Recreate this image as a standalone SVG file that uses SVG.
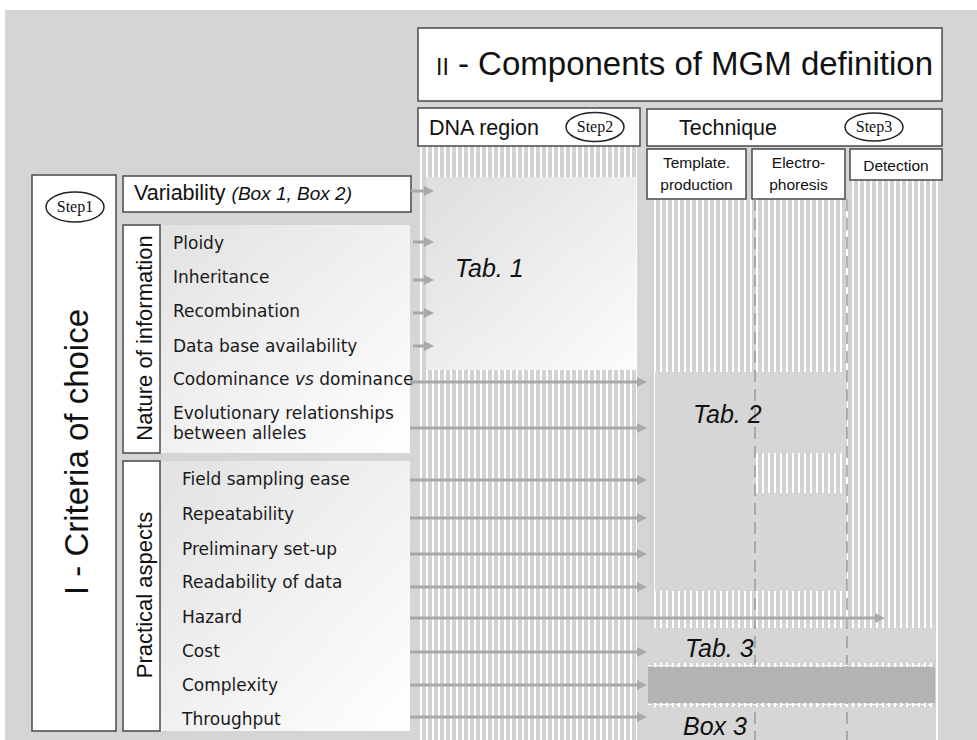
<svg xmlns="http://www.w3.org/2000/svg" width="977" height="740" viewBox="0 0 977 740">
<defs>
<pattern id="stripes" x="0" y="0" width="6" height="10" patternUnits="userSpaceOnUse">
<rect width="6" height="10" fill="#d2d2d2"/>
<rect x="0" width="2" height="10" fill="#ffffff"/>
</pattern>
<linearGradient id="panelGrad" x1="0" y1="0" x2="1" y2="1">
<stop offset="0" stop-color="#e2e2e2"/>
<stop offset="1" stop-color="#ffffff"/>
</linearGradient>
<linearGradient id="tab1Grad" x1="0" y1="0" x2="1" y2="1">
<stop offset="0" stop-color="#dedede"/>
<stop offset="1" stop-color="#fcfcfc"/>
</linearGradient>
<marker id="ah" viewBox="0 0 10 10" refX="2" refY="5" markerWidth="10" markerHeight="10" orient="auto" markerUnits="userSpaceOnUse">
<path d="M0,0 L10,5 L0,10 z" fill="#a9a9a9"/>
</marker>
</defs>
<style>
.box{fill:#ffffff;stroke:#4a4a4a;stroke-width:1.5}
.sans{font-family:"Liberation Sans",Arial,sans-serif;fill:#111}
.comic{font-family:"DejaVu Sans",sans-serif;fill:#1a1a1a;font-size:17px}
.step{font-family:"Liberation Serif","Times New Roman",serif;fill:#111;font-size:16px}
.ell{fill:#ffffff;stroke:#222;stroke-width:1.5}
.tab{font-family:"Liberation Sans",Arial,sans-serif;font-style:italic;font-size:25px;fill:#111}
.conn{stroke:#a9a9a9;stroke-width:3;fill:none}
.dash{stroke:#9a9a9a;stroke-width:1.5;stroke-dasharray:12 7;fill:none}
.gray{fill:#d6d6d6}
</style>

<g id="background">
<rect x="0" y="0" width="977" height="740" fill="#ffffff"/>
<rect x="5" y="10" width="972" height="730" fill="#d5d5d5"/>
<rect x="420" y="146" width="217" height="594" fill="url(#stripes)"/>
<rect x="650" y="199" width="288" height="541" fill="url(#stripes)"/>
<rect x="850" y="180" width="88" height="20" fill="url(#stripes)"/>
</g>

<g id="title">
<rect class="box" x="418" y="28" width="524" height="73"/>
<text class="sans" x="436" y="75" font-size="33"><tspan font-size="23">II</tspan> - Components of MGM definition</text>
</g>

<g id="dna-region">
<rect class="box" x="418" y="108" width="222" height="38"/>
<text class="sans" x="429" y="135" font-size="21.5">DNA region</text>
<ellipse class="ell" cx="595" cy="127" rx="29" ry="14.5"/>
<text class="step" x="595" y="132" text-anchor="middle">Step2</text>
</g>

<g id="technique">
<rect class="box" x="647" y="109" width="295" height="37"/>
<text class="sans" x="679" y="135" font-size="21.5">Technique</text>
<ellipse class="ell" cx="874" cy="127" rx="29" ry="14"/>
<text class="step" x="874" y="132" text-anchor="middle">Step3</text>
</g>

<g id="template-production">
<rect class="box" x="647" y="149" width="99" height="50"/>
<text class="sans" x="696.5" y="168" font-size="15.5" text-anchor="middle">Template.</text>
<text class="sans" x="696.5" y="190" font-size="15.5" text-anchor="middle">production</text>
</g>

<g id="electrophoresis">
<rect class="box" x="752" y="149" width="93" height="50"/>
<text class="sans" x="798.5" y="168" font-size="15.5" text-anchor="middle">Electro-</text>
<text class="sans" x="798.5" y="190" font-size="15.5" text-anchor="middle">phoresis</text>
</g>

<g id="detection">
<rect class="box" x="850" y="149" width="92" height="31"/>
<text class="sans" x="896" y="171" font-size="15.5" text-anchor="middle">Detection</text>
</g>

<g id="criteria">
<rect class="box" x="32" y="175" width="84" height="556"/>
<ellipse class="ell" cx="75" cy="207" rx="29" ry="15"/>
<text class="step" x="75" y="212" text-anchor="middle">Step1</text>
<text class="sans" transform="translate(88,452) rotate(-90)" font-size="33" text-anchor="middle">I - Criteria of choice</text>
</g>

<g id="variability">
<rect class="box" x="123" y="176" width="288" height="36"/>
<text class="sans" x="134" y="200" font-size="21.5">Variability <tspan font-style="italic" font-size="19">(Box 1, Box 2)</tspan></text>
</g>

<g id="nature-of-information">
<rect x="160" y="225" width="250" height="228" fill="url(#panelGrad)"/>
<rect class="box" x="123" y="225" width="37" height="228"/>
<text class="sans" transform="translate(152,338) rotate(-90)" font-size="22" text-anchor="middle">Nature of information</text>
<text class="comic" x="173" y="249">Ploidy</text>
<text class="comic" x="173" y="283">Inheritance</text>
<text class="comic" x="173" y="317">Recombination</text>
<text class="comic" x="173" y="352">Data base availability</text>
<text class="comic" x="173" y="385">Codominance <tspan font-style="italic">vs</tspan> dominance</text>
<text class="comic" x="173" y="419">Evolutionary relationships</text>
<text class="comic" x="173" y="439" font-size="14.5">between alleles</text>
</g>

<g id="practical-aspects">
<rect x="160" y="461" width="250" height="270" fill="url(#panelGrad)"/>
<rect class="box" x="123" y="461" width="37" height="270"/>
<text class="sans" transform="translate(152,595) rotate(-90)" font-size="22" text-anchor="middle">Practical aspects</text>
<text class="comic" x="182" y="485">Field sampling ease</text>
<text class="comic" x="182" y="520">Repeatability</text>
<text class="comic" x="182" y="555">Preliminary set-up</text>
<text class="comic" x="182" y="588">Readability of data</text>
<text class="comic" x="182" y="623">Hazard</text>
<text class="comic" x="182" y="657">Cost</text>
<text class="comic" x="182" y="691">Complexity</text>
<text class="comic" x="182" y="725">Throughput</text>
</g>

<g id="tab1">
<rect x="426" y="177" width="210" height="193" fill="url(#tab1Grad)"/>
<text class="tab" x="455" y="277">Tab. 1</text>
</g>

<g id="tab2">
<rect class="gray" x="655" y="372" width="100" height="219"/>
<rect class="gray" x="755" y="372" width="92" height="81"/>
<rect class="gray" x="755" y="493" width="92" height="98"/>
</g>

<g id="tab3">
<rect class="gray" x="647" y="628" width="288" height="35"/>
</g>

<g id="box3">
<rect class="gray" x="648" y="707" width="287" height="33"/>
</g>

<g id="dashes">
<line class="dash" x1="755" y1="199" x2="755" y2="740"/>
<line class="dash" x1="847" y1="199" x2="847" y2="740"/>
</g>

<g id="complexity-band">
<rect x="648" y="667" width="287" height="36" fill="#b3b3b3"/>
<line x1="648" y1="665.5" x2="935" y2="665.5" stroke="#ffffff" stroke-width="1.2" stroke-dasharray="4 3"/>
<line x1="648" y1="704.5" x2="935" y2="704.5" stroke="#ffffff" stroke-width="1.2" stroke-dasharray="4 3"/>
</g>

<g id="labels">
<text class="tab" x="693" y="423">Tab. 2</text>
<text class="tab" x="685" y="657">Tab. 3</text>
<text class="tab" x="683" y="735">Box 3</text>
</g>

<g id="connectors">
<line class="conn" x1="411" y1="191" x2="426" y2="191" marker-end="url(#ah)"/>
<line class="conn" x1="413" y1="242" x2="426" y2="242" marker-end="url(#ah)"/>
<line class="conn" x1="413" y1="280" x2="426" y2="280" marker-end="url(#ah)"/>
<line class="conn" x1="413" y1="313" x2="426" y2="313" marker-end="url(#ah)"/>
<line class="conn" x1="413" y1="346" x2="426" y2="346" marker-end="url(#ah)"/>
<line class="conn" x1="410" y1="382" x2="639" y2="382" marker-end="url(#ah)"/>
<line class="conn" x1="410" y1="428" x2="639" y2="428" marker-end="url(#ah)"/>
<line class="conn" x1="410" y1="480" x2="639" y2="480" marker-end="url(#ah)"/>
<line class="conn" x1="410" y1="518" x2="639" y2="518" marker-end="url(#ah)"/>
<line class="conn" x1="410" y1="554" x2="639" y2="554" marker-end="url(#ah)"/>
<line class="conn" x1="410" y1="587" x2="639" y2="587" marker-end="url(#ah)"/>
<line class="conn" x1="410" y1="618" x2="877" y2="618" marker-end="url(#ah)"/>
<line class="conn" x1="410" y1="652" x2="639" y2="652" marker-end="url(#ah)"/>
<line class="conn" x1="410" y1="685" x2="639" y2="685" marker-end="url(#ah)"/>
<line class="conn" x1="410" y1="717" x2="639" y2="717" marker-end="url(#ah)"/>
</g>
</svg>
